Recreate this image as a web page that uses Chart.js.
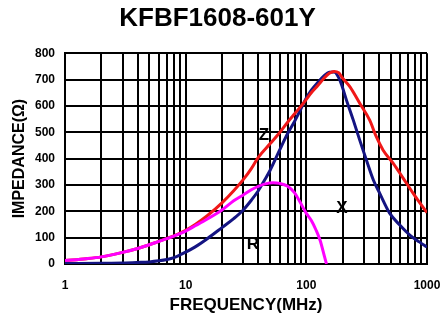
<!DOCTYPE html>
<html>
<head>
<meta charset="utf-8">
<script src="https://cdn.jsdelivr.net/npm/chart.js@4/dist/chart.umd.min.js"></script>
<style>
html,body{margin:0;padding:0;background:#fff;}
#wrap{width:443px;height:318px;position:relative;}
</style>
</head>
<body>
<div id="wrap"><canvas id="c" width="443" height="318"></canvas></div>
<script>
// ---- Data ----
const chartTitle = 'KFBF1608-601Y';
const xAxisTitle = 'FREQUENCY(MHz)';
const yAxisTitle = 'IMPEDANCE(Ω)';
const xTickLabels = [1, 10, 100, 1000];
const yTicks = [0, 100, 200, 300, 400, 500, 600, 700, 800];

// Z (impedance) curve
const freqZ = [1, 1.5, 2, 3, 4, 5, 6, 7, 8, 10, 12, 15, 20, 25, 30, 35, 40, 50, 60, 70, 80, 90, 100, 110, 125, 140, 155, 170, 185, 200, 230, 277, 335, 380, 433, 525, 634, 766, 900, 1000];
const valZ  = [13, 20, 27, 44, 59, 73, 86, 97, 107, 128, 150, 182, 232, 278, 320, 362, 405, 456, 498, 538, 570, 598, 625, 650, 678, 705, 724, 731, 726, 705, 672, 610, 546, 483, 432, 382, 326, 269, 223, 195];

// X (reactance) curve
const freqX = [1, 2, 3, 4, 5, 6, 7, 8, 10, 12, 15, 20, 25, 30, 35, 40, 45, 50, 60, 70, 80, 90, 100, 110, 125, 140, 155, 170, 190, 215, 245, 277, 315, 360, 405, 490, 595, 720, 870, 1000];
const valX  = [2, 3, 4, 6, 8, 12, 17, 24, 45, 65, 95, 138, 172, 205, 242, 278, 318, 355, 432, 495, 542, 588, 630, 660, 690, 714, 728, 729, 697, 622, 546, 470, 394, 318, 269, 193, 148, 110, 83, 64];

// R (resistance) curve
const freqR = [1, 1.5, 2, 3, 4, 5, 6, 7, 8, 10, 12, 15, 20, 25, 30, 35, 40, 45, 53, 60, 70, 80, 88, 100, 110, 120, 130, 142, 147];
const valR  = [13, 20, 27, 44, 59, 73, 86, 96, 106, 125, 145, 170, 205, 240, 262, 282, 295, 303, 308, 306, 295, 270, 238, 192, 165, 130, 90, 25, 0];

// Curve labels
const curveLabels = ['Z', 'X', 'R'];
const curveLabelFreq = [44.5, 197, 36];
const curveLabelVal = [489, 212, 76];

const FONT = '"Liberation Sans", Arial, Helvetica, sans-serif';

function pts(xs, ys) { return xs.map((x, i) => ({x: x, y: ys[i]})); }

const labelPlugin = {
  id: 'curveLabels',
  afterDatasetsDraw(chart) {
    const ctx = chart.ctx;
    const xs = chart.scales.x, ys = chart.scales.y;
    ctx.save();
    ctx.fillStyle = '#000';
    ctx.font = 'bold 17px ' + FONT;
    ctx.textAlign = 'center';
    ctx.textBaseline = 'middle';
    curveLabels.forEach((t, i) => {
      ctx.fillText(t, xs.getPixelForValue(curveLabelFreq[i]), ys.getPixelForValue(curveLabelVal[i]));
    });
    ctx.restore();
  }
};

const logTicks = [];
for (let d = 1; d < 1000; d *= 10) { for (let m = 1; m < 10; m++) logTicks.push(m * d); }
logTicks.push(1000);

new Chart(document.getElementById('c'), {
  type: 'line',
  data: {
    datasets: [
      {label: 'R', data: pts(freqR, valR), borderColor: '#ff00ff', borderWidth: 3, order: 0},
      {label: 'Z', data: pts(freqZ, valZ), borderColor: '#f01818', borderWidth: 3, order: 1},
      {label: 'X', data: pts(freqX, valX), borderColor: '#141482', borderWidth: 3, order: 2}
    ]
  },
  options: {
    responsive: false,
    animation: false,
    elements: {point: {radius: 0}, line: {cubicInterpolationMode: 'monotone', fill: false}},
    layout: {padding: {left: 0, right: 8, top: 0, bottom: 0}},
    plugins: {
      legend: {display: false},
      tooltip: {enabled: false},
      title: {
        display: true, text: chartTitle, color: '#000',
        font: {family: FONT, size: 26, weight: 'bold', lineHeight: 1.2},
        padding: {top: 3, bottom: 19}
      }
    },
    scales: {
      x: {
        type: 'logarithmic', min: 1, max: 1000,
        afterBuildTicks(scale) { scale.ticks = logTicks.map(v => ({value: v})); },
        afterFit(scale) { scale.height = 54; scale.paddingRight = 16; scale.paddingLeft = 0; },
        ticks: {
          color: '#000', font: {family: FONT, size: 12, weight: 'bold'},
          autoSkip: false, maxRotation: 0, minRotation: 0, padding: 14,
          callback(v) { return xTickLabels.includes(v) ? String(v) : ''; }
        },
        grid: {color: '#000', lineWidth: 2, drawTicks: false},
        border: {color: '#000', width: 2},
        title: {display: true, text: xAxisTitle, color: '#000',
          font: {family: FONT, size: 17, weight: 'bold', lineHeight: 1.2}, padding: {top: 0, bottom: 2}}
      },
      y: {
        min: 0, max: 800,
        afterBuildTicks(scale) { scale.ticks = yTicks.map(v => ({value: v})); },
        afterFit(scale) { scale.width = 65; },
        ticks: {color: '#000', font: {family: FONT, size: 12, weight: 'bold'}, padding: 10},
        grid: {color: '#000', lineWidth: 2, drawTicks: false},
        border: {color: '#000', width: 2},
        title: {display: true, text: yAxisTitle, color: '#000',
          font: {family: FONT, size: 16, weight: 'bold', lineHeight: 1.2}, padding: {top: 10, bottom: 0}}
      }
    }
  },
  plugins: [labelPlugin]
});
</script>
</body>
</html>
